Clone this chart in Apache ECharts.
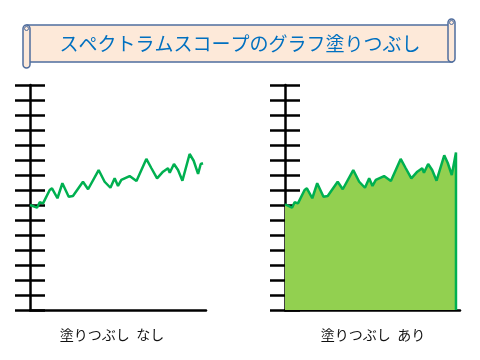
<!DOCTYPE html>
<html>
<head>
<meta charset="utf-8">
<script src="https://cdn.jsdelivr.net/npm/echarts@6/dist/echarts.min.js"></script>
<style>html,body{margin:0;padding:0;background:#fff}#c{width:480px;height:360px}</style>
</head>
<body>
<div id="c"></div>
<script>
var titleText = 'スペクトラムスコープのグラフ塗りつぶし';
var labelLeft = '塗りつぶし  なし';
var labelRight = '塗りつぶし  あり';
var yTicks = { min: 0, max: 15, interval: 1 };

// left: spectrum without fill (x: frequency 0-100, y: level in tick units)
var freqLeft = [0,1.1,4.0,5.5,7.4,11.2,12.5,15.6,18.4,22.0,24.4,30.1,33.0,39.0,42.4,45.7,48.1,50.0,51.9,56.6,60.5,66.1,69.0,72.2,75.6,78.4,79.4,81.8,84.1,86.6,90.7,93.0,95.5,97.0,98.3];
var levelLeft = [7.0,7.11,6.82,7.18,7.11,8.0,8.11,7.45,8.45,7.55,7.6,8.55,8.05,9.33,8.55,8.15,8.78,8.27,8.67,8.93,8.6,10.07,9.45,8.78,9.22,9.45,9.15,9.73,9.33,8.62,10.4,9.95,9.07,9.73,9.78];

// right: spectrum with fill
var freqRight = [0,1.1,4.0,5.5,7.4,11.2,12.5,15.6,18.4,22.0,24.4,30.1,33.0,39.0,42.4,45.7,48.1,50.0,51.9,56.6,60.5,66.1,69.0,72.2,75.6,78.4,79.4,81.8,84.1,86.6,91.0,93.0,95.3,97.7,97.7];
var levelRight = [7.05,7.11,6.82,7.18,7.11,8.0,8.11,7.45,8.45,7.55,7.6,8.55,8.05,9.33,8.55,8.15,8.78,8.27,8.67,8.93,8.6,10.07,9.45,8.78,9.22,9.45,9.15,9.73,9.33,8.62,10.31,9.8,9.0,10.5,0];

function pairs(xs, ys){ return xs.map(function(x,i){ return [x, ys[i]]; }); }

var black = '#000';
function yAx(grid, inside, showLine){
  return {
    type:'value', gridIndex:grid, position:'left', min:yTicks.min, max:yTicks.max, interval:yTicks.interval,
    axisLine:{show:showLine, onZero:false, lineStyle:{color:black,width:2.5}},
    axisTick:{show:true, inside:inside, length:15, lineStyle:{color:black,width:2.5}},
    axisLabel:{show:false}, splitLine:{show:false}
  };
}
function xAx(grid){
  return {
    type:'value', gridIndex:grid, min:0, max:100,
    axisLine:{show:true, onZero:false, lineStyle:{color:black,width:2.5}},
    axisTick:{show:false}, axisLabel:{show:false}, splitLine:{show:false}
  };
}

var chart = echarts.init(document.getElementById('c'), null, {renderer:'canvas'});
chart.setOption({
  animation:false,
  backgroundColor:'#fff',
  grid:[
    {left:30, top:85, width:176, height:225},
    {left:285, top:85, width:175, height:225}
  ],
  xAxis:[xAx(0), xAx(1)],
  yAxis:[yAx(0,false,true), yAx(0,true,false), yAx(1,false,true), yAx(1,true,false)],
  series:[
    {type:'line', xAxisIndex:0, yAxisIndex:0, data:pairs(freqLeft, levelLeft), symbol:'none',
     lineStyle:{color:'#00b050', width:2.5}, z:3},
    {type:'line', xAxisIndex:1, yAxisIndex:2, data:pairs(freqRight, levelRight), symbol:'none',
     lineStyle:{color:'#00b050', width:2.5}, areaStyle:{color:'#92d050', opacity:1}, z:1}
  ],
  graphic:[
    {type:'rect', shape:{x:27, y:25, width:425, height:37}, style:{fill:'#fde9d9', stroke:'#4f6d9e', lineWidth:1.5}, z:10},
    {type:'rect', shape:{x:23, y:25, width:7, height:43, r:3.5}, style:{fill:'#fde9d9', stroke:'#4f6d9e', lineWidth:1.5}, z:11},
    {type:'circle', shape:{cx:26.5, cy:28.5, r:2}, style:{fill:'#fde9d9', stroke:'#4f6d9e', lineWidth:1}, z:12},
    {type:'rect', shape:{x:448, y:19, width:7, height:43, r:3.5}, style:{fill:'#fde9d9', stroke:'#4f6d9e', lineWidth:1.5}, z:11},
    {type:'circle', shape:{cx:451.5, cy:22.5, r:2}, style:{fill:'#fde9d9', stroke:'#4f6d9e', lineWidth:1}, z:12},
    {type:'text', x:240, y:44, style:{text:titleText, fill:'#0070c0', font:'19px "Noto Sans CJK JP"', align:'center', verticalAlign:'middle'}, z:13},
    {type:'text', x:112, y:335, style:{text:labelLeft, fill:'#111', font:'14px "Noto Sans CJK JP"', align:'center', verticalAlign:'middle'}, z:13},
    {type:'text', x:373, y:335, style:{text:labelRight, fill:'#111', font:'14px "Noto Sans CJK JP"', align:'center', verticalAlign:'middle'}, z:13}
  ]
});
</script>
</body>
</html>
